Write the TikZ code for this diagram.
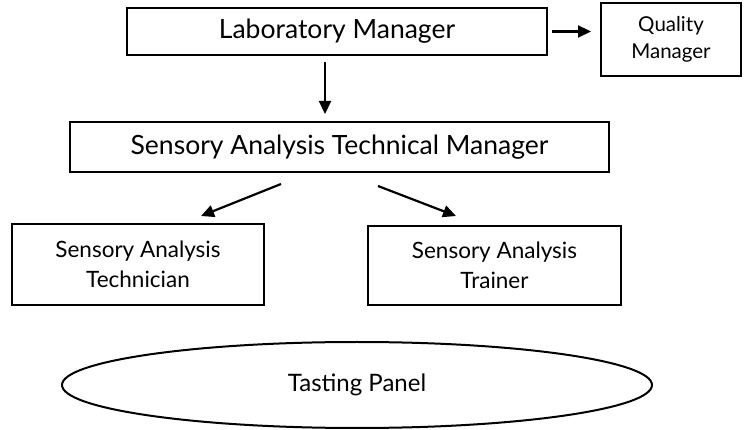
\documentclass[tikz,border=0pt]{standalone}
\usepackage{fontspec}
\setmainfont{Lato}
\usetikzlibrary{shapes.geometric,arrows.meta,calc}
\tikzset{
  box/.style={draw, line width=2pt, rectangle, inner sep=0pt, align=center},
  big/.style={font=\fontsize{26.5}{30}\selectfont},
  small/.style={font=\fontsize{22.5}{30}\selectfont},
  tiny/.style={font=\fontsize{20.5}{27}\selectfont},
  arr/.style={line width=2.2pt, -{Triangle[length=13pt,width=12pt]}},
}
\begin{document}
\begin{tikzpicture}[x=1pt,y=-1pt]
  \useasboundingbox[fill=white] (0,0) rectangle (745,430);
  % boxes
  \node[box, big, minimum width=420pt, minimum height=47pt] (lab) at (337,31.5) {Laboratory Manager};
  \node[box, tiny, minimum width=140pt, minimum height=73pt] (qm) at (671,39.5) {Quality\\Manager};
  \node[box, big, minimum width=539pt, minimum height=50pt] (stm) at (339.5,147) {Sensory Analysis Technical Manager};
  \node[box, small, minimum width=252pt, minimum height=81pt] (tech) at (138,264.5) {Sensory Analysis\\Technician};
  \node[box, small, minimum width=253pt, minimum height=79pt] (train) at (494.5,265.5) {Sensory Analysis\\Trainer};
  \node[draw, line width=2pt, ellipse, inner sep=0pt, font=\fontsize{24}{28}\selectfont,
        minimum width=590pt, minimum height=86pt] (panel) at (357,385) {Tasting Panel};
  % connectors
  \draw[arr] ($(lab.east)+(4,0)$) -- ($(qm.west |- lab.east)+(-9,0)$);
  \draw[arr] ($(lab.south)+(-12,6)$) -- ($(stm.north)+(-14.5,-7)$);
  \draw[arr] ($(stm.south)+(-58.5,11)$) -- ($(tech.north)+(63,-7)$);
  \draw[arr] ($(stm.south)+(38.5,13)$) -- ($(train.north)+(-38.5,-9)$);
\end{tikzpicture}
\end{document}
